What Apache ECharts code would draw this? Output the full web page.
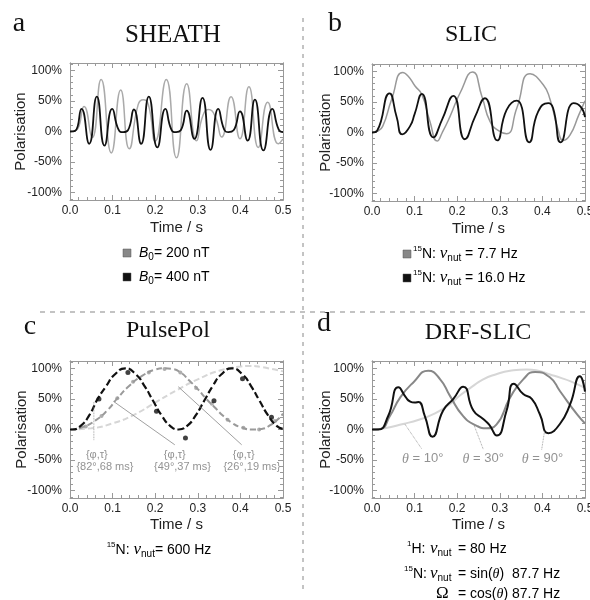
<!DOCTYPE html>
<html>
<head>
<meta charset="utf-8">
<script src="https://cdn.jsdelivr.net/npm/echarts@6/dist/echarts.min.js"></script>
<style>
  html, body { margin: 0; background: #fff; }
  #main { width: 590px; height: 600px; }
</style>
</head>
<body>
<div id="main"></div>
<script>
// ---- data: [time (s), polarisation (%)] ----
// a  SHEATH
var sheath200 = [[0,0],[0.015,2],[0.033,41],[0.052,-10],[0.073,85],[0.097,-35],[0.119,68],[0.139,-28],[0.160,44],[0.172,52],[0.184,44],[0.200,-16],[0.226,85],[0.250,-43],[0.274,78],[0.297,-15],[0.312,26],[0.325,36],[0.340,26],[0.356,-9],[0.378,57],[0.399,-12],[0.420,73],[0.442,-26],[0.464,48],[0.489,-20],[0.5,-12]];
var sheath400 = [[0,0],[0.012,1],[0.027,37],[0.045,-20],[0.063,57],[0.081,-23],[0.099,37],[0.114,3],[0.125,-1],[0.136,2],[0.150,36],[0.167,-20],[0.185,57],[0.205,-26],[0.224,37],[0.238,3],[0.249,-1],[0.260,2],[0.274,34],[0.292,-12],[0.311,55],[0.330,-30],[0.348,37],[0.362,3],[0.372,-1],[0.384,2],[0.399,33],[0.417,-15],[0.434,52],[0.454,-31],[0.475,37],[0.490,3],[0.5,-1]];
// b  SLIC
var slic77 = [[0,0],[0.012,2],[0.025,10],[0.046,54],[0.072,98],[0.085,92],[0.101,76],[0.117,62],[0.136,18],[0.153,-14],[0.165,0],[0.183,26],[0.207,65],[0.236,99],[0.258,59],[0.277,18],[0.297,3],[0.316,-2],[0.340,40],[0.371,96],[0.402,78],[0.418,54],[0.437,4],[0.449,-13],[0.465,-4],[0.485,28],[0.5,52]];
var slic160 = [[0,0],[0.012,3],[0.041,64],[0.058,25],[0.071,-3],[0.089,10],[0.100,30],[0.117,63],[0.144,-8],[0.165,22],[0.191,60],[0.218,-11],[0.242,26],[0.265,56],[0.294,-13],[0.316,37],[0.340,52],[0.369,-16],[0.390,34],[0.414,48],[0.425,40],[0.443,-16],[0.473,48],[0.490,42],[0.5,25]];
// c  PulsePol
var pp26 = [[0,0],[0.05,2],[0.1,10],[0.15,24],[0.2,44],[0.25,64],[0.3,82],[0.35,96],[0.4,103],[0.42,104],[0.45,102],[0.5,95]];
var pp49 = [[0,0],[0.03,4],[0.06,15],[0.09,33],[0.11,50],[0.14,72],[0.17,88],[0.2,98],[0.22,100],[0.24,99],[0.26,93],[0.28,80],[0.3,66],[0.32,50],[0.34,36],[0.36,22],[0.38,11],[0.4,4],[0.43,0],[0.45,1],[0.47,7],[0.49,18],[0.5,26]];
var pp82 = [[0,0],[0.005,0],[0.025,6],[0.045,23],[0.065,50],[0.085,71],[0.105,90],[0.13,100],[0.155,90],[0.175,71],[0.195,47],[0.215,23],[0.235,6],[0.255,0],[0.275,6],[0.295,23],[0.315,47],[0.335,71],[0.355,90],[0.38,100],[0.405,90],[0.425,71],[0.445,47],[0.465,23],[0.485,6],[0.5,1]];
var pp49Dots = [[0.037,5],[0.074,22],[0.111,51],[0.148,78],[0.185,93],[0.222,99],[0.259,93],[0.296,68],[0.333,42],[0.370,16],[0.407,3],[0.444,0],[0.481,14]];
var pp82Dots = [[0.068,50],[0.136,93],[0.203,30],[0.271,-14],[0.338,47],[0.405,83],[0.473,20]];
var ppLeaders = [[[0.056,45],[0.056,-18]], [[0.102,46],[0.246,-25]], [[0.254,70],[0.403,-25]]];
var ppLabelsTop = [[0.063,-42,'{φ,τ}'], [0.246,-42,'{φ,τ}'], [0.408,-42,'{φ,τ}']];
var ppLabelsBottom = [[0.082,-61,'{82°,68 ms}'], [0.264,-61,'{49°,37 ms}'], [0.427,-61,'{26°,19 ms}']];
// d  DRF-SLIC
var drf10 = [[0,0],[0.03,2],[0.073,9],[0.11,16],[0.144,25],[0.18,40],[0.207,56],[0.235,70],[0.261,82],[0.29,90],[0.324,96],[0.363,98],[0.39,96],[0.418,90],[0.445,84],[0.465,79],[0.5,68]];
var drf30 = [[0,0],[0.02,1],[0.042,22],[0.066,52],[0.097,77],[0.132,96],[0.16,82],[0.183,55],[0.214,22],[0.246,6],[0.269,2],[0.292,8],[0.324,52],[0.355,82],[0.383,94],[0.418,85],[0.441,63],[0.481,25],[0.5,10]];
var drf90 = [[0,0],[0.015,0],[0.038,22],[0.062,69],[0.08,52],[0.089,46],[0.1,44],[0.109,45],[0.124,22],[0.142,-12],[0.167,31],[0.191,50],[0.214,70],[0.238,31],[0.261,17],[0.275,8],[0.293,-10],[0.316,31],[0.333,75],[0.355,58],[0.375,50],[0.394,25],[0.414,-6],[0.441,9],[0.465,41],[0.488,87],[0.5,62]];
var drfLeaders = [[[0.077,9],[0.117,-32]], [[0.239,8],[0.261,-32]], [[0.405,-3],[0.398,-34]]];
var drfLabels = [[0.119,-48,'10°'], [0.261,-48,'30°'], [0.400,-48,'90°']];

// ticks
var yMajor = [-100, -50, 0, 50, 100];
var yMinor = [-110,-100,-90,-80,-70,-60,-50,-40,-30,-20,-10,0,10,20,30,40,50,60,70,80,90,100,110];

var SANS = 'Liberation Sans, Arial, sans-serif';
var SERIF = 'Liberation Serif, Times New Roman, serif';
var FRAME = '#999';

var chart = echarts.init(document.getElementById('main'));

var grids = [
  { left: 70,  top: 63,  width: 213, height: 137, outerBoundsMode: 'none' },
  { left: 372, top: 64,  width: 213, height: 137, outerBoundsMode: 'none' },
  { left: 70,  top: 361, width: 213, height: 137, outerBoundsMode: 'none' },
  { left: 372, top: 361, width: 213, height: 137, outerBoundsMode: 'none' }
];
var yNameGap = [42, 39, 41, 39];
var xNameGap = [20, 20, 19, 19];

var xAxes = [], yAxes = [];
grids.forEach(function (g, i) {
  var xb = {
    type: 'value', gridIndex: i, min: 0, max: 0.5, interval: 0.1,
    axisLine: { show: true, onZero: false, lineStyle: { color: FRAME, width: 1 } },
    axisTick: { show: true, inside: true, length: 5, lineStyle: { color: FRAME } },
    minorTick: { show: true, splitNumber: 5, length: 3, lineStyle: { color: FRAME } },
    splitLine: { show: false }, minorSplitLine: { show: false }
  };
  xAxes.push(Object.assign({}, xb, {
    position: 'bottom',
    name: 'Time / s', nameLocation: 'middle', nameGap: xNameGap[i], nameMoveOverlap: false,
    nameTextStyle: { fontSize: 15, color: '#222', fontFamily: SANS },
    axisLabel: { margin: 5, fontSize: 12, color: '#222', fontFamily: SANS,
      formatter: function (v) { return v.toFixed(1); } }
  }));
  xAxes.push(Object.assign({}, xb, { position: 'top', axisLabel: { show: false } }));

  var yb = {
    type: 'value', gridIndex: i, min: -112, max: 112,
    splitLine: { show: false },
    axisLine: { show: true, onZero: false, lineStyle: { color: FRAME, width: 1 } }
  };
  var major = { show: true, inside: true, length: 5, customValues: yMajor, lineStyle: { color: FRAME } };
  var minor = { show: true, inside: true, length: 3, customValues: yMinor, lineStyle: { color: FRAME } };
  yAxes.push(Object.assign({}, yb, {
    position: 'left', axisTick: major,
    name: 'Polarisation', nameLocation: 'middle', nameGap: yNameGap[i], nameMoveOverlap: false,
    nameTextStyle: { fontSize: 15, color: '#222', fontFamily: SANS },
    axisLabel: { customValues: yMajor, margin: 8, fontSize: 12, color: '#222', fontFamily: SANS,
      formatter: function (v) { return v + '%'; } }
  }));
  yAxes.push(Object.assign({}, yb, { position: 'left', axisTick: minor, axisLabel: { show: false } }));
  yAxes.push(Object.assign({}, yb, { position: 'right', axisTick: major, axisLabel: { show: false } }));
  yAxes.push(Object.assign({}, yb, { position: 'right', axisTick: minor, axisLabel: { show: false } }));
});

function curve(g, data, color, width, dash) {
  return {
    type: 'line', xAxisIndex: 2 * g, yAxisIndex: 4 * g, data: data,
    smooth: 0.55, showSymbol: false, symbol: 'none',
    silent: true, animation: false,
    lineStyle: { color: color, width: width, type: dash || 'solid' }
  };
}
function dots(g, data, color, size) {
  return {
    type: 'scatter', xAxisIndex: 2 * g, yAxisIndex: 4 * g, data: data,
    symbol: 'circle', symbolSize: size, itemStyle: { color: color },
    silent: true, animation: false
  };
}
function leader(g, seg, dash) {
  return {
    type: 'line', xAxisIndex: 2 * g, yAxisIndex: 4 * g, data: seg,
    showSymbol: false, symbol: 'none', silent: true, animation: false,
    lineStyle: { color: '#888', width: 0.8, type: dash }
  };
}
function labels(g, list, size, fmt) {
  return {
    type: 'scatter', xAxisIndex: 2 * g, yAxisIndex: 4 * g, symbolSize: 0,
    silent: true, animation: false,
    data: list.map(function (a) { return { value: [a[0], a[1]], name: a[2] }; }),
    label: { show: true, position: 'inside', formatter: fmt || '{b}', color: '#777',
      fontSize: size, fontFamily: SANS,
      rich: { t: { fontSize: size + 1, fontFamily: SERIF, fontStyle: 'italic', color: '#777' } } }
  };
}

var series = [
  curve(0, sheath200, '#aaa', 1.5),
  curve(0, sheath400, '#111', 1.8),
  curve(1, slic77, '#999', 1.5),
  curve(1, slic160, '#111', 1.8),
  curve(2, pp26, '#d6d6d6', 2, [6, 3]),
  curve(2, pp49, '#9a9a9a', 2, [6, 3]),
  curve(2, pp82, '#111', 2.2, [7, 3]),
  dots(2, pp49Dots, '#9a9a9a', 4),
  dots(2, pp82Dots, '#111', 5),
  leader(2, ppLeaders[0], 'dotted'),
  leader(2, ppLeaders[1], 'solid'),
  leader(2, ppLeaders[2], 'solid'),
  labels(2, ppLabelsTop, 11),
  labels(2, ppLabelsBottom, 11),
  curve(3, drf10, '#d6d6d6', 2),
  curve(3, drf30, '#888', 2),
  curve(3, drf90, '#111', 2),
  leader(3, drfLeaders[0], 'dotted'),
  leader(3, drfLeaders[1], 'dotted'),
  leader(3, drfLeaders[2], 'dotted'),
  labels(3, drfLabels, 13, '{t|θ} = {b}')
];

// ---- text decorations ----
var rich = {
  n: { fontSize: 14, fontFamily: SANS, color: '#777', lineHeight: 18, verticalAlign: 'middle' },
  i: { fontSize: 14, fontFamily: SANS, fontStyle: 'italic', color: '#777', lineHeight: 18, verticalAlign: 'middle' },
  th: { fontSize: 14, fontFamily: SERIF, fontStyle: 'italic', color: '#777', lineHeight: 18, verticalAlign: 'middle' },
  nu: { fontSize: 17, fontFamily: SERIF, fontStyle: 'italic', color: '#777', lineHeight: 18, verticalAlign: 'middle' },
  sub: { fontSize: 10, fontFamily: SANS, color: '#777', lineHeight: 10, verticalAlign: 'bottom' },
  sup: { fontSize: 8, fontFamily: SANS, color: '#777', lineHeight: 10, verticalAlign: 'top' },
  om: { fontSize: 17, fontFamily: SERIF, color: '#777', lineHeight: 18, verticalAlign: 'middle' }
};
function txt(x, y, text, size, font, align, color) {
  return { type: 'text', x: x, y: y, silent: true,
    style: { text: text, fontSize: size, fontFamily: font, fill: color || '#111',
      align: align || 'center', verticalAlign: 'middle' } };
}
function rtxt(x, y, text, align) {
  return { type: 'text', x: x, y: y, silent: true,
    style: { text: text, rich: rich, align: align || 'left', verticalAlign: 'middle' } };
}
function square(cx, cy, color) {
  return { type: 'rect', silent: true, shape: { x: cx - 4, y: cy - 4, width: 8, height: 8 },
    style: { fill: color, stroke: '#555', lineWidth: 0.5 } };
}

var graphic = [
  { type: 'line', silent: true, shape: { x1: 303, y1: 18, x2: 303, y2: 592 },
    style: { stroke: '#888', lineWidth: 1, lineDash: [4, 5] } },
  { type: 'line', silent: true, shape: { x1: 40, y1: 312, x2: 590, y2: 312 },
    style: { stroke: '#888', lineWidth: 1, lineDash: [5, 5] } },
  txt(19, 24, 'a', 28, SERIF), txt(335, 24, 'b', 28, SERIF),
  txt(30, 327, 'c', 28, SERIF), txt(324, 324, 'd', 28, SERIF),
  txt(173, 35, 'SHEATH', 25, SERIF), txt(471, 35, 'SLIC', 24, SERIF),
  txt(168, 331, 'PulsePol', 24, SERIF), txt(478, 333, 'DRF-SLIC', 24, SERIF),
  square(127, 253, '#888'), rtxt(139, 253, '{i|B}{sub|0}{n|= 200 nT}'),
  square(127, 277, '#111'), rtxt(139, 277, '{i|B}{sub|0}{n|= 400 nT}'),
  square(407, 254, '#888'), rtxt(413, 254, '{sup|15}{n|N: }{nu|ν}{sub|nut}{n| = 7.7 Hz}'),
  square(407, 278, '#111'), rtxt(413, 278, '{sup|15}{n|N: }{nu|ν}{sub|nut}{n| = 16.0 Hz}'),
  rtxt(159, 550, '{sup|15}{n|N: }{nu|ν}{sub|nut}{n|= 600 Hz}', 'center'),
  rtxt(407, 549, '{sup|1}{n|H:}'), rtxt(430, 549, '{nu|ν}{sub|nut}'), rtxt(458, 549, '{n|= 80 Hz}'),
  rtxt(404, 574, '{sup|15}{n|N:}'), rtxt(430, 574, '{nu|ν}{sub|nut}'), rtxt(458, 574, '{n|= sin(}{th|θ}{n|)  87.7 Hz}'),
  rtxt(436, 594, '{om|Ω}'), rtxt(458, 594, '{n|= cos(}{th|θ}{n|) 87.7 Hz}')
];

chart.setOption({
  backgroundColor: '#ffffff',
  animation: false,
  grid: grids,
  xAxis: xAxes,
  yAxis: yAxes,
  series: series,
  graphic: graphic
});
</script>
</body>
</html>
